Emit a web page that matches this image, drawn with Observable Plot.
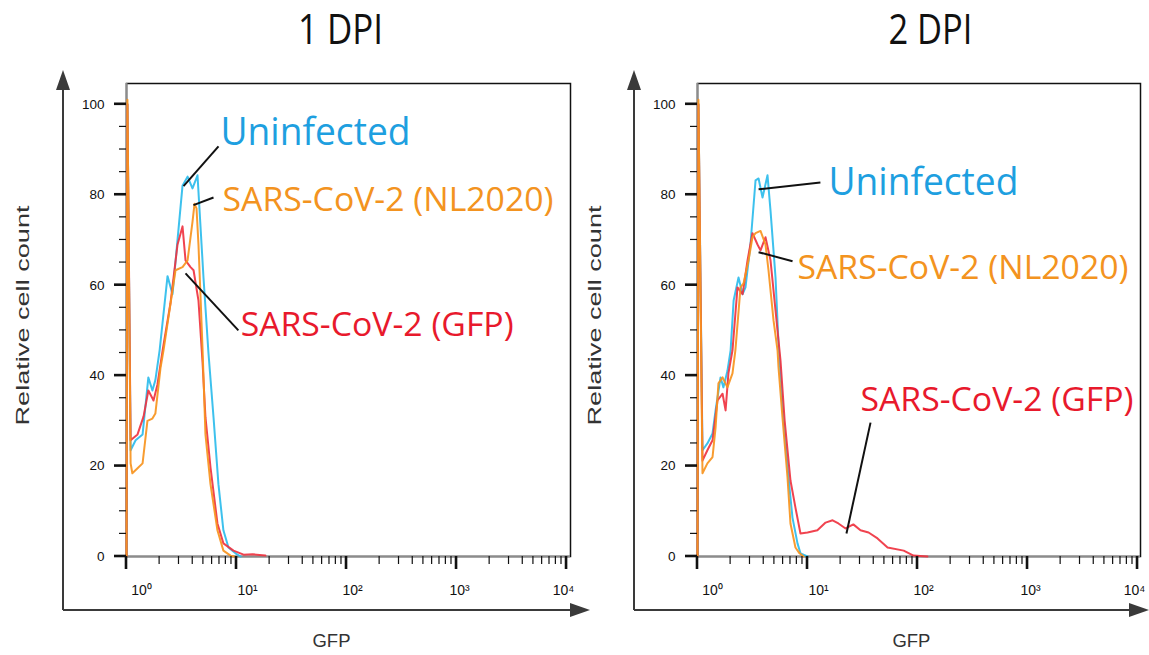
<!DOCTYPE html>
<html><head><meta charset="utf-8">
<script src="https://cdn.jsdelivr.net/npm/d3@7"></script>
<script src="https://cdn.jsdelivr.net/npm/@observablehq/plot@0.6"></script>
<style>
body{margin:0;background:#fff;}
#wrap{position:relative;width:1149px;height:655px;overflow:hidden;background:#fff;}
.pane{position:absolute;top:0;}
#overlay{position:absolute;left:0;top:0;pointer-events:none;}
</style></head><body><div id="wrap"><div class="pane" id="p1" style="left:0"></div><div class="pane" id="p2" style="left:575px"></div></div>
<script>
// ---- data: [GFP intensity, relative cell count] ----
const panelTitles = ["1 DPI", "2 DPI"];
const seriesNames = ["Uninfected", "SARS-CoV-2 (NL2020)", "SARS-CoV-2 (GFP)"];
const seriesColors = ["#2cbcec", "#f7941e", "#ef3340"];
const labelColors = ["#1e9fe0", "#f39320", "#e8192c"];

const dpi1_uninfected = [[1.0,0],[1.02,100],[1.09,23.5],[1.21,25.7],[1.40,27],[1.58,39.6],[1.72,36.7],[1.83,39],[2.0,45.6],[2.36,62],[2.62,58],[3.23,82],[3.59,84],[3.98,81.4],[4.42,84.3],[5.01,61.7],[5.56,45],[6.18,30.8],[6.85,16],[7.60,5.8],[8.45,2],[9.79,0.7],[10.9,0]];
const dpi1_nl2020 = [[1.0,0],[1.02,101],[1.09,20.6],[1.13,18.4],[1.26,19.5],[1.40,20.6],[1.55,30],[1.72,30.5],[1.83,31.6],[2.04,41.8],[2.17,45.6],[2.79,63.3],[3.23,64],[3.59,65.5],[3.98,74],[4.15,78],[4.33,77],[4.51,69],[4.70,58],[4.91,46],[5.22,27],[5.80,16],[6.71,5.8],[7.60,1.3],[8.82,0.2],[9.5,0]];
const dpi1_gfp = [[1.0,0],[1.02,100],[1.09,25.7],[1.26,27],[1.43,31],[1.58,36.7],[1.72,35],[1.76,34.5],[1.91,38],[2.13,45.6],[2.51,56],[2.91,69],[3.23,73],[3.44,65.5],[3.82,64],[4.07,63.3],[4.51,56.6],[4.91,43],[5.22,30.8],[5.80,19.7],[6.71,7.3],[7.60,2.9],[9.39,1.3],[11.6,0.4],[14,0.5],[18.3,0.2]];

const dpi2_uninfected = [[1.0,0],[1.02,100],[1.11,23.5],[1.23,25],[1.37,27.2],[1.46,32.3],[1.62,39.6],[1.72,37.4],[1.87,41],[2.0,45.6],[2.13,56.6],[2.36,61.7],[2.57,58],[2.73,59.5],[3.03,69],[3.37,83.2],[3.59,83.6],[3.90,79.4],[4.33,84.3],[4.61,76.5],[5.12,61.7],[5.45,47],[6.04,30.8],[6.71,17.5],[7.30,8.6],[8.11,2.9],[8.63,0.7],[10.0,0]];
const dpi2_nl2020 = [[1.0,0],[1.02,101],[1.11,18.4],[1.23,20.6],[1.37,22],[1.46,28.5],[1.55,38.3],[1.69,39.6],[1.87,37.4],[2.08,40.5],[2.21,45.6],[2.46,59.5],[2.62,60.4],[2.91,65.5],[3.16,70.6],[3.37,71.5],[3.74,72],[4.15,69],[4.42,63.3],[4.91,52.2],[5.34,45.6],[5.45,41.8],[5.92,30.8],[6.58,17.5],[7.0,7.3],[7.77,2],[8.46,0.7],[9.2,0]];
const dpi2_gfp = [[1.0,0],[1.02,100],[1.11,21.2],[1.23,23.5],[1.37,25.7],[1.52,34.5],[1.69,36],[1.80,32.3],[1.91,40.5],[2.08,45.6],[2.31,59.5],[2.57,58],[2.85,65.5],[3.16,71.5],[3.51,69],[3.74,67.7],[4.15,70.6],[4.61,65.5],[5.12,54.4],[5.68,43.4],[6.2,30],[7.0,16.8],[7.77,10.8],[8.63,5.1],[10.0,5.3],[12.3,5.8],[14.6,7.5],[16.9,8],[19.1,7.3],[22.2,6.2],[26.1,7.1],[30.3,5.8],[35.9,5.3],[43.3,4],[53.4,2],[74.9,1.3],[91.9,0.2],[123,0]];

// annotation label anchors (data units) and pointer lines
const dpi1_labels = [[7.15,93.6],[7.46,78.8],[10.9,51.1]];
const dpi1_pointers = [[6.86,90.7,3.30,81.9],[6.18,79.4,4.06,77.7],[3.44,62.6,10.4,50]];
const dpi2_labels = [[15.5,82.7],[8.11,63.7],[30.3,34.5]];
const dpi2_pointers = [[13.1,82.7,3.59,81.2],[7.31,65.3,3.59,67.3],[37.4,29.6,22.6,5.1]];

const yMajor = [0, 20, 40, 60, 80, 100];
const yMinor = [5,10,15,25,30,35,45,50,55,65,70,75,85,90,95];
const xMajor = [1, 10, 100, 1000, 10000];
const xMinor = [2,3,4,5,6,7,8,9,20,30,40,50,60,70,80,90,200,300,400,500,600,700,800,900,2000,3000,4000,5000,6000,7000,8000,9000];
const xTickLabels = ["10\u2070","10\u00b9","10\u00b2","10\u00b3","10\u2074"];
const xLabelDx = [15, 11, 6, 3, -3];
const yLabel = "Relative cell count";
const xLabel = "GFP";

const textWidths = {"1 DPI":85, "2 DPI":84, "Uninfected":190, "SARS-CoV-2 (NL2020)":331, "SARS-CoV-2 (GFP)":273, "Relative cell count":220, "GFP":38};

const yTop = 104.6;
const M = {top: 83, bottom: 99};

function panel(cfg) {
  const series = cfg.series;
  const marks = [
    Plot.frame({stroke: "#111", strokeWidth: 1.5}),
    Plot.axisY({ticks: yMajor, tickSize: 0, tickPadding: 22, fontSize: 13.5, fill: "#111", label: null, tickFormat: d3.format("d")}),
    Plot.ruleX([1], {stroke: "#8c8c8c", strokeWidth: 2}),
    Plot.ruleY([0], {stroke: "#8c8c8c", strokeWidth: 2}),
  ];
  xMajor.forEach((v, i) => {
    marks.push(Plot.text([v], {x: d => d, frameAnchor: "bottom", dy: 34, dx: xLabelDx[i], lineAnchor: "middle",
      text: () => xTickLabels[i], fontSize: 14, fill: "#111"}));
  });
  [0, 2, 1].forEach(i => {
    marks.push(Plot.line(series[i], {x: d => d[0], y: d => d[1], stroke: seriesColors[i], strokeWidth: 2, strokeOpacity: 0.92}));
  });
  marks.push(Plot.link(cfg.pointers, {x1: d => d[0], y1: d => d[1], x2: d => d[2], y2: d => d[3], stroke: "#111", strokeWidth: 2}));
  marks.push(Plot.text(seriesNames.map((n, i) => ({n, i, x: cfg.labels[i][0], y: cfg.labels[i][1]})), {
    x: "x", y: "y", text: "n", textAnchor: "start", fill: d => labelColors[d.i],
    fontSize: d => d.i === 0 ? 38 : 33, fontFamily: "Open Sans"
  }));
  marks.push(Plot.text([cfg.title], {x: cfg.titleX, frameAnchor: "top", dy: -53, lineAnchor: "middle", fontSize: 42, fontFamily: "Open Sans", fill: "#111", text: d => d}));
  marks.push(Plot.text([yLabel], {y: 53.3, frameAnchor: "left", dx: cfg.yLabelDx, rotate: -90, textAnchor: "middle", lineAnchor: "middle", fontSize: 19, fill: "#333", text: d => d}));
  marks.push(Plot.text([xLabel], {x: cfg.xLabelX, frameAnchor: "bottom", dy: 85, lineAnchor: "middle", fontSize: 18, fill: "#333", text: d => d}));

  const svg = Plot.plot({
    width: cfg.width, height: 655,
    marginLeft: cfg.marginLeft, marginRight: cfg.marginRight, marginTop: M.top, marginBottom: M.bottom,
    style: {fontFamily: "Liberation Sans, Arial, sans-serif"},
    x: {type: "log", domain: cfg.xDomain, axis: null},
    y: {domain: [0, yTop]},
    marks
  });
  d3.select(svg).selectAll("text").each(function() {
    const w = textWidths[this.textContent];
    if (w) d3.select(this).attr("textLength", w).attr("lengthAdjust", "spacingAndGlyphs");
  });
  return svg;
}

const cfgs = [
  {width: 575, marginLeft: 126, marginRight: 5, xDomain: [1, Math.pow(10, 4.036)],
   series: [dpi1_uninfected, dpi1_nl2020, dpi1_gfp], labels: dpi1_labels, pointers: dpi1_pointers,
   title: panelTitles[0], titleX: 88, yLabelDx: -104, xLabelX: 73, offset: 0, arrowX: 63, arrowEnd: 590},
  {width: 574, marginLeft: 122, marginRight: 9, xDomain: [1, Math.pow(10, 4.027)],
   series: [dpi2_uninfected, dpi2_nl2020, dpi2_gfp], labels: dpi2_labels, pointers: dpi2_pointers,
   title: panelTitles[1], titleX: 131, yLabelDx: -103, xLabelX: 88, offset: 575, arrowX: 634, arrowEnd: 1149}
];
cfgs.forEach((c, i) => document.getElementById(i === 0 ? "p1" : "p2").appendChild(panel(c)));

// overlay: tick marks (same log / linear mapping as each panel's scales) and outer arrowed axes
const ov = d3.select("#wrap").append("svg").attr("id", "overlay").attr("width", 1149).attr("height", 655);
cfgs.forEach(c => {
  const left = c.offset + c.marginLeft, right = c.offset + c.width - c.marginRight;
  const top = M.top, bottom = 655 - M.bottom;
  const sx = d3.scaleLog().domain(c.xDomain).range([left, right]);
  const sy = d3.scaleLinear().domain([0, yTop]).range([bottom, top]);
  const x0 = sx(1), y0 = sy(0);
  const tg = ov.append("g").attr("fill", "#111");
  yMinor.forEach(v => tg.append("rect").attr("x", x0 - 7).attr("y", sy(v) - 0.6).attr("width", 7).attr("height", 1.2));
  yMajor.forEach(v => tg.append("rect").attr("x", x0 - 12).attr("y", sy(v) - 1.3).attr("width", 12).attr("height", 2.6));
  xMinor.forEach(v => tg.append("rect").attr("x", sx(v) - 0.6).attr("y", y0).attr("width", 1.2).attr("height", 8));
  xMajor.forEach(v => tg.append("rect").attr("x", sx(v) - 1.3).attr("y", y0).attr("width", 2.6).attr("height", 13));

  const g = ov.append("g").attr("stroke", "#3a3a3a").attr("fill", "#3a3a3a");
  const ax = c.arrowX, ay = 610, end = c.arrowEnd;
  g.append("line").attr("x1", ax).attr("x2", ax).attr("y1", 86).attr("y2", ay).attr("stroke-width", 2);
  g.append("line").attr("x1", ax).attr("x2", end - 14).attr("y1", ay).attr("y2", ay).attr("stroke-width", 2);
  g.append("path").attr("stroke", "none").attr("d", `M${ax},70 L${ax-7},90 L${ax+7},90 Z`);
  g.append("path").attr("stroke", "none").attr("d", `M${end},${ay} L${end-20},${ay-7} L${end-20},${ay+7} Z`);
});
</script></body></html>
